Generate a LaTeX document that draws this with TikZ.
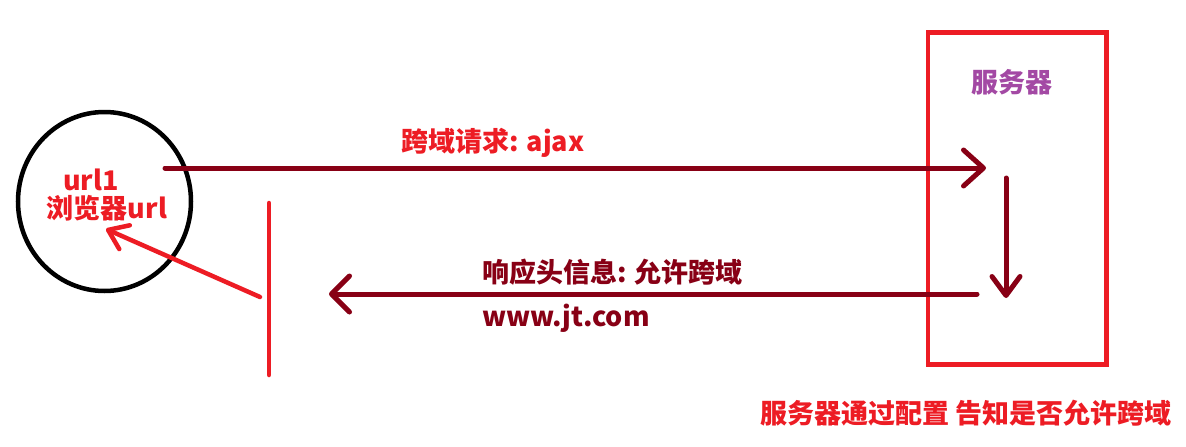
\documentclass[tikz,border=0pt]{standalone}
\usepackage{fontspec}
\newfontfamily\cjk{Noto Sans CJK SC}
\usetikzlibrary{arrows.meta,shapes.geometric}
\definecolor{paintred}{HTML}{ED1C24}
\definecolor{paintdark}{HTML}{880015}
\definecolor{paintpurple}{HTML}{A349A4}

\begin{document}
\begin{tikzpicture}[x=1pt, y=-1pt, font=\cjk\bfseries\fontsize{27}{30}\selectfont]
	\fill[white] (0,0) rectangle (1186,447);
	\useasboundingbox (0,0) rectangle (1186,447);
	%browser
	\node[draw=black, line width=4.5pt, ellipse, inner sep=0pt, minimum width=173pt, minimum height=179pt] (browser) at (104.5,201.5) {};
	\node[text=paintred, inner sep=0pt] (url1) at (91,180) {url1};
	\node[text=paintred, inner sep=0pt] (burl) at (107,208) {浏览器url};
	%server
	\node[draw=paintred, line width=4.5pt, rectangle, inner sep=0pt, minimum width=178.5pt, minimum height=332pt] (server) at (1017,198.5) {};
	\node[text=paintpurple, inner sep=0pt] (servname) at (1012,82) {服务器};
	%wall
	\coordinate (wall top) at (269,203);
	\coordinate (wall bottom) at (269,375);
	\draw[paintred, line width=4.5pt, line cap=round] (wall top) -- (wall bottom);
	%arrows
	\coordinate (req start) at (165,168);
	\coordinate (req end) at (986,168);
	\coordinate (proc start) at (1006,178);
	\coordinate (proc end) at (1006,298);
	\coordinate (resp start) at (977,294);
	\coordinate (resp end) at (329,294);
	\coordinate (back start) at (260,297);
	\coordinate (back end) at (106,229);
	\draw[paintdark, line width=5pt, line cap=round, -{Straight Barb[round, length=20pt, width=36pt]}] (req start) -- (req end);
	\draw[paintdark, line width=5pt, line cap=round, -{Straight Barb[round, length=19pt, width=28pt]}] (proc start) -- (proc end);
	\draw[paintdark, line width=5pt, line cap=round, -{Straight Barb[round, length=18pt, width=36pt]}] (resp start) -- (resp end);
	\draw[paintred, line width=4.5pt, line cap=round, -{Straight Barb[round, length=18pt, width=26pt]}] (back start) -- (back end);
	%labels
	\node[text=paintred, inner sep=0pt, anchor=west] (reqlabel) at (401,143) {跨域请求: ajax};
	\node[text=paintdark, inner sep=0pt, anchor=west] (resplabel) at (482,272) {响应头信息: 允许跨域};
	\node[text=paintdark, inner sep=0pt, anchor=west] (host) at (482,318) {www.jt.com};
	\node[text=paintred, inner sep=0pt] (note) at (966,413) {服务器通过配置 告知是否允许跨域};
\end{tikzpicture}
\end{document}
